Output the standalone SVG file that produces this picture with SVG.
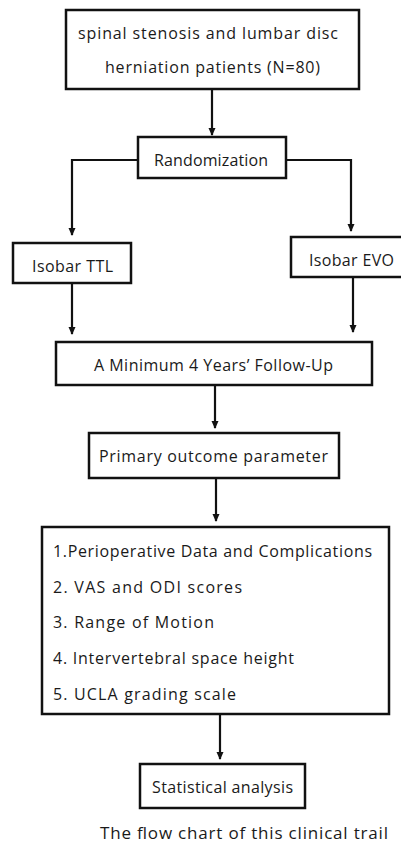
<svg xmlns="http://www.w3.org/2000/svg" width="401" height="844" viewBox="0 0 401 844">
<defs>
<style>
.box{fill:#fff;stroke:#111;stroke-width:2.5}
.t{font-family:"Open Sans","Noto Sans",sans-serif;font-size:16px;font-weight:500;fill:#1a1a1a}
.ln{fill:none;stroke:#111;stroke-width:2.2}
</style>
<marker id="ah" viewBox="0 0 8 8" refX="7" refY="4" markerWidth="8" markerHeight="8" markerUnits="userSpaceOnUse" orient="auto">
<path d="M0,0.5 L8,4 L0,7.5 Z" fill="#111"/>
</marker>
</defs>
<rect width="401" height="844" fill="#fff"/>
<g id="connectors">
<line class="ln" x1="212" y1="89" x2="212" y2="135" marker-end="url(#ah)"/>
<polyline class="ln" points="138,160 72,160 72,235" marker-end="url(#ah)"/>
<polyline class="ln" points="286,160 351,160 351,231" marker-end="url(#ah)"/>
<line class="ln" x1="72" y1="283" x2="72" y2="334" marker-end="url(#ah)"/>
<line class="ln" x1="353" y1="277" x2="353" y2="332" marker-end="url(#ah)"/>
<line class="ln" x1="215" y1="385" x2="215" y2="428" marker-end="url(#ah)"/>
<line class="ln" x1="216" y1="478" x2="216" y2="521" marker-end="url(#ah)"/>
<line class="ln" x1="220" y1="714" x2="220" y2="759" marker-end="url(#ah)"/>
</g>
<g id="patients">
<rect class="box" x="66" y="10" width="293" height="79"/>
<text class="t" x="78" y="39" textLength="260" lengthAdjust="spacing">spinal stenosis and lumbar disc</text>
<text class="t" x="105" y="73" textLength="215" lengthAdjust="spacing">herniation patients (N=80)</text>
</g>
<g id="randomization">
<rect class="box" x="138" y="137" width="148" height="41"/>
<text class="t" x="154" y="166" textLength="114" lengthAdjust="spacing">Randomization</text>
</g>
<g id="ttl">
<rect class="box" x="13" y="243" width="118" height="40"/>
<text class="t" x="32" y="272" textLength="81" lengthAdjust="spacing">Isobar TTL</text>
</g>
<g id="evo">
<rect class="box" x="291" y="237" width="116" height="40"/>
<text class="t" x="309" y="266" textLength="85" lengthAdjust="spacing">Isobar EVO</text>
</g>
<g id="followup">
<rect class="box" x="56" y="342" width="316" height="43"/>
<text class="t" x="94" y="371" textLength="239" lengthAdjust="spacing">A Minimum 4 Years’ Follow-Up</text>
</g>
<g id="primary">
<rect class="box" x="89" y="433" width="250" height="45"/>
<text class="t" x="99" y="462" textLength="229" lengthAdjust="spacing">Primary outcome parameter</text>
</g>
<g id="outcomes">
<rect class="box" x="42" y="527" width="347" height="187"/>
<text class="t" x="53" y="557" textLength="319" lengthAdjust="spacing">1.Perioperative Data and Complications</text>
<text class="t" x="53" y="593" textLength="189" lengthAdjust="spacing">2. VAS and ODI scores</text>
<text class="t" x="53" y="628" textLength="161" lengthAdjust="spacing">3. Range of Motion</text>
<text class="t" x="53" y="664" textLength="241" lengthAdjust="spacing">4. Intervertebral space height</text>
<text class="t" x="53" y="700" textLength="183" lengthAdjust="spacing">5. UCLA grading scale</text>
</g>
<g id="statistical">
<rect class="box" x="140" y="764" width="165" height="44"/>
<text class="t" x="152" y="793" textLength="141" lengthAdjust="spacing">Statistical analysis</text>
</g>
<text class="t" x="100" y="839" style="font-size:17px;font-weight:400" textLength="288" lengthAdjust="spacing">The flow chart of this clinical trail</text>
</svg>
